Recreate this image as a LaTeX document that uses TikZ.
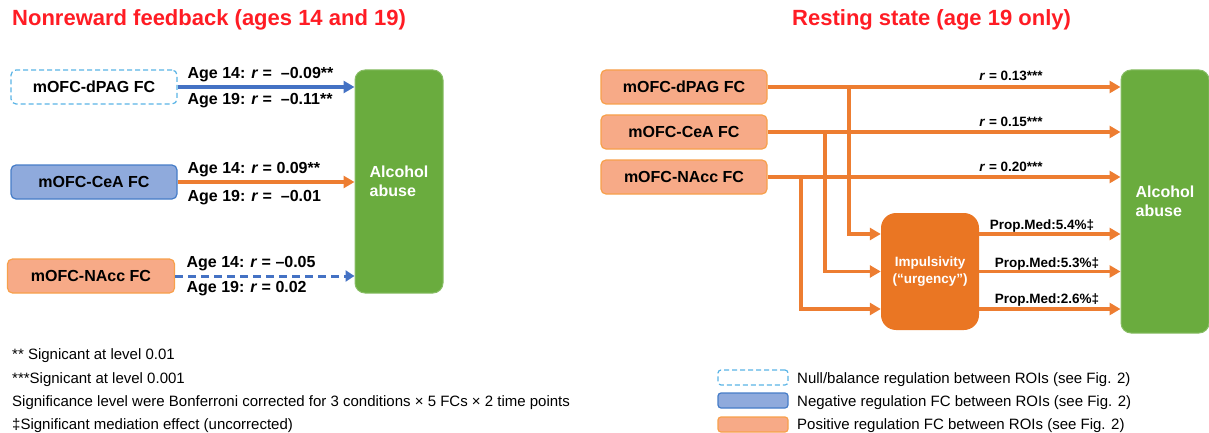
\documentclass[tikz,border=0pt]{standalone}
\usepackage{fontspec}
\setmainfont{Liberation Sans}
\usetikzlibrary{arrows.meta,positioning}

\definecolor{titlered}{RGB}{255,28,36}
\definecolor{nullblue}{RGB}{90,180,230}
\definecolor{negline}{RGB}{70,125,200}
\definecolor{negfill}{RGB}{143,170,220}
\definecolor{posline}{RGB}{247,160,75}
\definecolor{posfill}{RGB}{247,170,135}
\definecolor{arrowblue}{RGB}{68,114,196}
\definecolor{arroworange}{RGB}{237,125,49}
\definecolor{abusegreen}{RGB}{106,172,62}
\definecolor{impulsorange}{RGB}{234,118,35}

\begin{document}
\begin{tikzpicture}[x=1pt,y=-1pt,node distance=45pt,on grid,
    >={Triangle[length=11pt,width=12pt]}]
  \tikzstyle{roi}=[rectangle,rounded corners=5pt,line width=1.2pt,minimum width=166pt,minimum height=34pt,font=\fontsize{16}{19}\selectfont\bfseries]
  \tikzstyle{nullfc}=[draw=nullblue,dash pattern=on 5pt off 3pt,fill=white]
  \tikzstyle{negfc}=[draw=negline,fill=negfill]
  \tikzstyle{posfc}=[draw=posline,fill=posfill]
  \tikzstyle{abuse}=[rectangle,rounded corners=10pt,draw=abusegreen!80!white,line width=1pt,fill=abusegreen,text=white,align=left,minimum width=88pt,font=\fontsize{16}{19}\selectfont\bfseries]
  \tikzstyle{mediator}=[rectangle,rounded corners=15pt,fill=impulsorange,text=white,align=center,minimum width=98pt,minimum height=117pt,font=\fontsize{13.5}{17}\selectfont\bfseries]
  \tikzstyle{keybox}=[rectangle,rounded corners=3pt,line width=1.2pt,minimum width=70pt,minimum height=15pt]
  \tikzstyle{lab}=[inner sep=0pt,font=\fontsize{16}{19}\selectfont\bfseries,anchor=base west]
  \tikzstyle{smalllab}=[inner sep=0pt,font=\fontsize{13.5}{15}\selectfont\bfseries]
  \tikzstyle{note}=[inner sep=0pt,font=\fontsize{15}{18}\selectfont,anchor=base west]
  \tikzstyle{heading}=[inner sep=0pt,font=\fontsize{22}{26}\selectfont\bfseries,text=titlered,anchor=base west]
  \tikzstyle{blueline}=[->,draw=arrowblue,line width=4pt]
  \tikzstyle{orangeline}=[->,draw=arroworange,line width=4pt]
  \tikzstyle{pathline}=[->,draw=arroworange,line width=3.5pt]

  \useasboundingbox (0,0) rectangle (1209,433);

  % nonreward feedback
  \node[heading] (titleL) at (12,26) {Nonreward feedback (ages 14 and 19)};
  \node[roi,nullfc] (dpagL) at (94,87) {mOFC-dPAG FC};
  \node[roi,negfc] (ceaL) at (94,182) {mOFC-CeA FC};
  \node[roi,posfc,minimum width=167pt] (naccL) at (91,276) {mOFC-NAcc FC};
  \node[abuse,minimum height=223pt] (alcL) at (399,181.5) {Alcohol\\abuse};

  \draw[blueline] (dpagL) -- (dpagL -| alcL.west)
    node[lab,pos=0,xshift=8pt,yshift=8pt] (dpag14) {Age 14: \textit{r} = \ –0.09**}
    node[lab,pos=0,xshift=8pt,yshift=-18pt] (dpag19) {Age 19: \textit{r} = \ –0.11**};
  \draw[orangeline] (ceaL) -- (ceaL -| alcL.west)
    node[lab,pos=0,xshift=8pt,yshift=9pt] (cea14) {Age 14: \textit{r} = 0.09**}
    node[lab,pos=0,xshift=8pt,yshift=-19pt] (cea19) {Age 19: \textit{r} = \ –0.01};
  \draw[blueline,line width=3pt,dash pattern=on 8pt off 5pt,>={Triangle[length=9pt,width=11pt]}] (naccL) -- (naccL -| alcL.west)
    node[lab,pos=0,xshift=10pt,yshift=9pt] (nacc14) {Age 14: \textit{r} = –0.05}
    node[lab,pos=0,xshift=10pt,yshift=-16pt] (nacc19) {Age 19: \textit{r} = 0.02};

  % resting state
  \node[heading] (titleR) at (792,26) {Resting state (age 19 only)};
  \node[roi,posfc] (dpagR) at (684,87) {mOFC-dPAG FC};
  \node[roi,posfc,below=45pt of dpagR] (ceaR) {mOFC-CeA FC};
  \node[roi,posfc,below=45pt of ceaR] (naccR) {mOFC-NAcc FC};
  \node[abuse,minimum height=263pt] (alcR) at (1165,201.5) {Alcohol\\abuse};
  \node[mediator] (impuls) at (930,271.5) {Impulsivity\\(“urgency”)};

  \draw[pathline] (dpagR) -- (dpagR -| alcR.west)
    node[smalllab,pos=0.69,anchor=base,yshift=6pt] (rdpag) {\textit{r} = 0.13***};
  \draw[pathline] (ceaR) -- (ceaR -| alcR.west)
    node[smalllab,pos=0.69,anchor=base,yshift=6pt] (rcea) {\textit{r} = 0.15***};
  \draw[pathline] (naccR) -- (naccR -| alcR.west)
    node[smalllab,pos=0.69,anchor=base,yshift=6pt] (rnacc) {\textit{r} = 0.20***};

  % branches into the mediator
  \coordinate (brD) at (849,87);
  \coordinate (brC) at (825,132);
  \coordinate (brN) at (801,177);
  \coordinate (inD) at ([yshift=37.5pt]impuls.west);
  \coordinate (inN) at ([yshift=-37.5pt]impuls.west);
  \draw[pathline] (brD) |- (inD);
  \draw[pathline] (brC) |- (impuls.west);
  \draw[pathline] (brN) |- (inN);

  % mediated paths
  \coordinate (outD) at ([yshift=37.5pt]impuls.east);
  \coordinate (outN) at ([yshift=-37.5pt]impuls.east);
  \draw[pathline] (outD) -- (outD -| alcR.west)
    node[smalllab,pos=0,anchor=base west,xshift=9pt,yshift=5pt] (medD) {Prop.Med:5.4\%‡};
  \draw[pathline] (impuls) -- (impuls -| alcR.west)
    node[smalllab,pos=0,anchor=base west,xshift=14pt,yshift=4pt] (medC) {Prop.Med:5.3\%‡};
  \draw[pathline] (outN) -- (outN -| alcR.west)
    node[smalllab,pos=0,anchor=base west,xshift=14pt,yshift=6pt] (medN) {Prop.Med:2.6\%‡};

  % footnotes
  \node[note] (fn1) at (12,359) {** Signicant at level 0.01};
  \node[note] (fn2) at (12,383) {***Signicant at level 0.001};
  \node[note] (fn3) at (12,406.5) {Significance level were Bonferroni corrected for 3 conditions × 5 FCs × 2 time points};
  \node[note] (fn4) at (12,429) {‡Significant mediation effect (uncorrected)};

  % legend
  \node[keybox,nullfc] (keynull) at (753,377.5) {};
  \node[keybox,negfc,below=23pt of keynull] (keyneg) {};
  \node[keybox,posfc,below=24pt of keyneg] (keypos) {};
  \node[note] (txtnull) at (797,383) {Null/balance regulation between ROIs (see Fig. 2)};
  \node[note] (txtneg) at (797,406.5) {Negative regulation FC between ROIs (see Fig. 2)};
  \node[note] (txtpos) at (797,429.5) {Positive regulation FC between ROIs (see Fig. 2)};
\end{tikzpicture}
\end{document}
